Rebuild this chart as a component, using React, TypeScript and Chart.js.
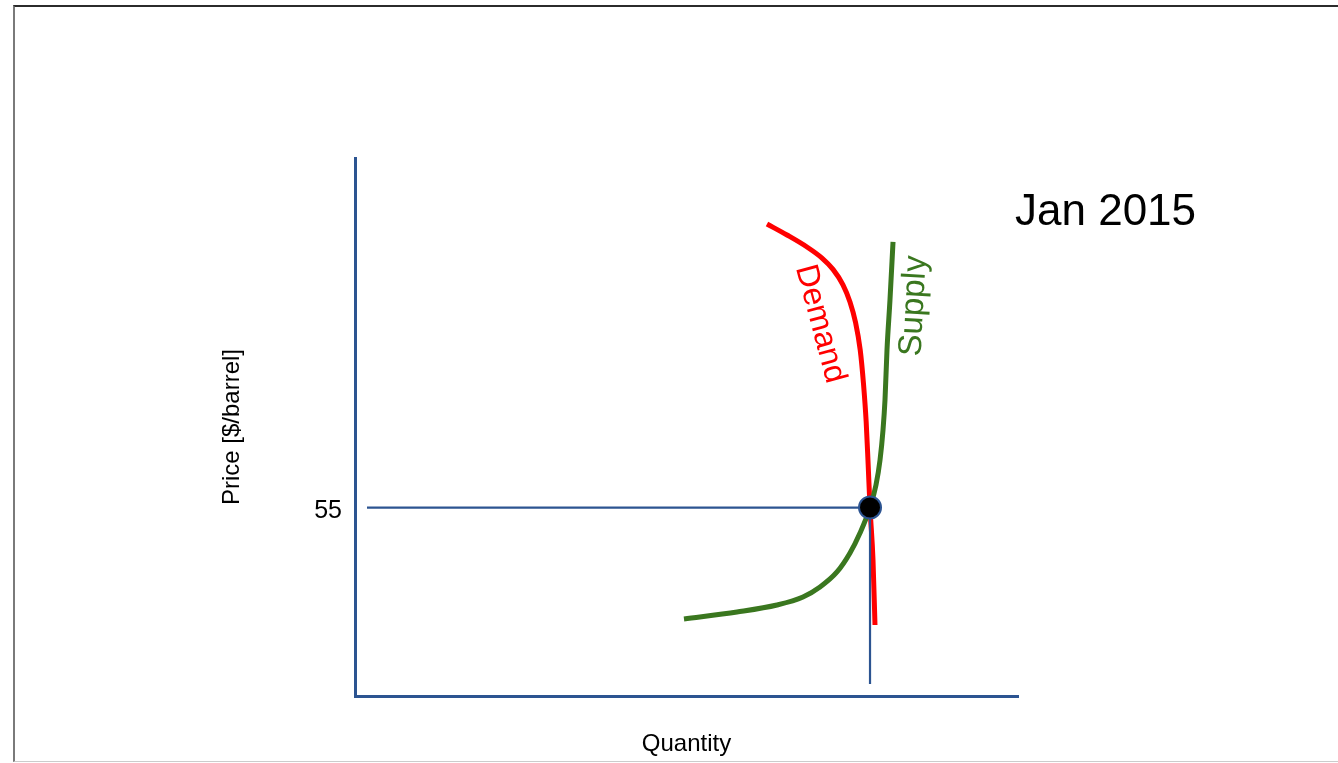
import React, { useEffect, useRef } from "react";
import { Chart, registerables } from "chart.js";

Chart.register(...registerables);

// ---- data ----
const demandQ = [62.14, 65.16, 68.17, 70.44, 72.1, 73.6, 74.66, 75.5, 76.2, 76.7, 77.1, 77.4, 77.68, 78.13, 78.43];
const demandP = [137.74, 134.53, 131.03, 127.8, 124.5, 120.0, 115.0, 109.0, 101.0, 91.0, 80.0, 67.5, 55, 39.69, 20.72];

const supplyQ = [49.62, 57.62, 63.65, 67.57, 70.14, 72.7, 74.66, 76.17, 77.68, 78.58, 79.19, 79.64, 79.94, 80.24, 80.69, 81.15];
const supplyP = [22.47, 24.51, 26.56, 28.89, 31.81, 36.19, 41.73, 47.57, 55, 61.57, 68.87, 77.62, 86.38, 100.97, 115.56, 132.49];

const equilibriumQ = 77.68;
const equilibriumP = 55;

const priceGuideQ = [1.81, 77.68];
const priceGuideP = [55, 55];
const quantityGuideQ = [77.68, 77.68];
const quantityGuideP = [55, 3.49];

const priceTicks = [55];

const periodLabel = "Jan 2015";
const demandLabel = "Demand";
const supplyLabel = "Supply";
const xTitle = "Quantity";
const yTitle = "Price [$/barrel]";

// ---- styles ----
const FONT = '"Liberation Sans", Arial, Helvetica, sans-serif';
const AXIS = "#2c5491";
const RED = "#ff0000";
const GREEN = "#3a771f";

const toPoints = (xs: number[], ys: number[]) => xs.map((x, i) => ({ x, y: ys[i] }));

const labelsPlugin = {
  id: "curveLabels",
  afterDraw(chart: any) {
    const { ctx } = chart;
    ctx.save();
    ctx.fillStyle = "#000";
    ctx.font = `44px ${FONT}`;
    ctx.textAlign = "left";
    ctx.textBaseline = "alphabetic";
    ctx.fillText(periodLabel, 1015, 225);

    ctx.save();
    ctx.translate(820, 324);
    ctx.rotate((75 * Math.PI) / 180);
    ctx.fillStyle = RED;
    ctx.font = `32px ${FONT}`;
    ctx.textAlign = "center";
    ctx.textBaseline = "middle";
    ctx.fillText(demandLabel, 0, 0);
    ctx.restore();

    ctx.save();
    ctx.translate(914, 306);
    ctx.rotate((-87 * Math.PI) / 180);
    ctx.fillStyle = GREEN;
    ctx.font = `33px ${FONT}`;
    ctx.textAlign = "center";
    ctx.textBaseline = "middle";
    ctx.fillText(supplyLabel, 0, 0);
    ctx.restore();

    ctx.restore();
  },
};

export default function App() {
  const canvasRef = useRef<HTMLCanvasElement | null>(null);

  useEffect(() => {
    if (!canvasRef.current) return;
    const lineBase = { showLine: true, pointRadius: 0, pointHoverRadius: 0, fill: false };
    const chart = new Chart(canvasRef.current, {
      type: "scatter",
      data: {
        datasets: [
          {
            label: "Equilibrium",
            data: [{ x: equilibriumQ, y: equilibriumP }],
            pointRadius: 11,
            pointHoverRadius: 11,
            backgroundColor: "#000",
            borderColor: AXIS,
            borderWidth: 2,
            showLine: false,
          },
          {
            ...lineBase,
            label: "Quantity guide",
            data: toPoints(quantityGuideQ, quantityGuideP),
            borderColor: AXIS,
            borderWidth: 2.2,
          },
          {
            ...lineBase,
            label: "Price guide",
            data: toPoints(priceGuideQ, priceGuideP),
            borderColor: AXIS,
            borderWidth: 2.2,
          },
          {
            ...lineBase,
            label: "Supply",
            data: toPoints(supplyQ, supplyP),
            borderColor: GREEN,
            borderWidth: 5,
            cubicInterpolationMode: "monotone",
          },
          {
            ...lineBase,
            label: "Demand",
            data: toPoints(demandQ, demandP),
            borderColor: RED,
            borderWidth: 5,
            cubicInterpolationMode: "monotone",
          },
        ],
      } as any,
      options: {
        responsive: false,
        animation: false,
        events: [],
        layout: { padding: { left: 214, right: 320, top: 158, bottom: 0 } },
        plugins: {
          legend: { display: false },
          tooltip: { enabled: false },
          title: { display: false },
        },
        scales: {
          x: {
            type: "linear",
            min: 0,
            max: 100,
            grid: { display: false, drawTicks: false },
            ticks: { display: false },
            border: { display: true, color: AXIS, width: 3 },
            title: {
              display: true,
              text: xTitle,
              color: "#000",
              font: { family: FONT, size: 24 },
              padding: { top: 4, bottom: 4 },
            },
            afterFit: (s: any) => {
              s.height = 67;
            },
          },
          y: {
            type: "linear",
            min: 0,
            max: 157,
            grid: { display: false, drawTicks: false },
            ticks: {
              color: "#000",
              font: { family: FONT, size: 25 },
              padding: 13,
              labelOffset: 4,
              autoSkip: false,
            },
            afterBuildTicks: (s: any) => {
              s.ticks = priceTicks.map((v) => ({ value: v }));
            },
            border: { display: true, color: AXIS, width: 3 },
            title: {
              display: true,
              text: yTitle,
              color: "#000",
              font: { family: FONT, size: 24 },
              padding: { top: 4, bottom: 4 },
            },
            afterFit: (s: any) => {
              s.width = 141;
            },
          },
        },
      } as any,
      plugins: [labelsPlugin],
    });
    return () => chart.destroy();
  }, []);

  return (
    <div style={{ position: "fixed", left: 0, top: 0, width: 1338, height: 763, background: "#fff" }}>
      <div
        style={{
          position: "absolute",
          left: 13,
          top: 5,
          width: 1325,
          height: 757,
          boxSizing: "border-box",
          borderTop: "2px solid #2b2b2b",
          borderLeft: "2px solid #7a7a7a",
          borderBottom: "1px solid #cccccc",
        }}
      />
      <canvas
        ref={canvasRef}
        width={1338}
        height={763}
        style={{ position: "absolute", left: 0, top: 0, width: 1338, height: 763 }}
      />
    </div>
  );
}
